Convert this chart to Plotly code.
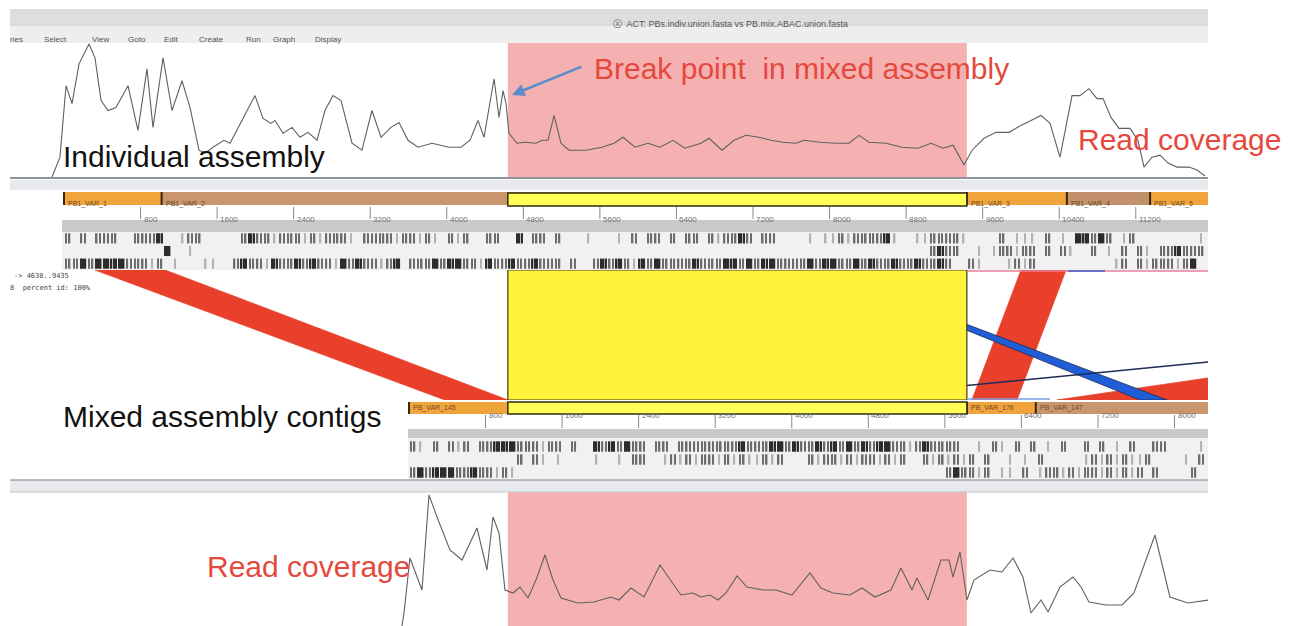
import plotly.graph_objects as go

W, H = 1292, 626            # screenshot size
PAGE_PAD = 8                # default body margin of the html page
FW, FH = W - PAGE_PAD, H - PAGE_PAD
BP_PER_PX = 10.45           # ACT zoom level (same for both sequences)
TOP_ORIGIN_PX = 64          # screen x of base 0 of the top sequence
OFFSET = 3605               # base 0 of the bottom sequence, in top-sequence bases
X_RANGE = [(10 - TOP_ORIGIN_PX) * BP_PER_PX, (1208 - TOP_ORIGIN_PX) * BP_PER_PX]

# ---------------- data ----------------
# read coverage, individual assembly (top sequence bases / depth)
top_cov_pos = [-125, -42, 21, 84, 157, 261, 324, 387, 460, 543, 669, 773, 867, 930, 1035,
               1129, 1233, 1317, 1411, 1473, 1557, 1672, 1735, 1860, 1996, 2080, 2163, 2205,
               2289, 2383, 2466, 2550, 2644, 2727, 2811, 2895, 3010, 3114, 3218, 3313, 3417,
               3501, 3595, 3699, 3846, 4023, 4149, 4243, 4326, 4389, 4494, 4546, 4588, 4619,
               4650, 4734, 4817, 4932, 4995, 5058, 5121, 5194, 5277, 5455, 5622, 5748, 5842,
               5967, 6103, 6228, 6364, 6489, 6657, 6740, 6876, 7002, 7127, 7263, 7388, 7514,
               7649, 7733, 7900, 8067, 8203, 8308, 8412, 8590, 8757, 8924, 9060, 9186, 9290,
               9405, 9489, 9614, 9739, 9875, 10000, 10105, 10210, 10304, 10408, 10534, 10617,
               10711, 10795, 10858, 10941, 11025, 11140, 11223, 11286, 11370, 11453, 11537,
               11631, 11756, 11840, 11924]
top_cov = [1, 21, 93, 75, 115, 135, 121, 78, 68, 71, 93, 48, 110, 51, 121, 68, 98, 71, 28, 25,
           31, 38, 35, 58, 83, 60, 55, 58, 45, 51, 41, 46, 38, 68, 83, 78, 35, 28, 68, 41, 51,
           56, 38, 31, 35, 31, 31, 38, 58, 41, 100, 61, 88, 75, 45, 35, 36, 35, 38, 38, 63, 35,
           28, 28, 31, 35, 41, 31, 35, 31, 38, 30, 35, 40, 28, 38, 43, 41, 38, 36, 35, 38, 36,
           35, 35, 43, 36, 35, 31, 30, 35, 30, 33, 13, 28, 40, 46, 46, 53, 58, 63, 55, 21, 83,
           83, 90, 80, 80, 61, 50, 50, 38, 11, 21, 23, 15, 11, 11, 8, 2]

# read coverage, mixed assembly (bottom sequence bases / depth)
bot_cov_pos = [-73, -52, 10, 84, 136, 209, 293, 428, 554, 711, 815, 878, 941, 1003, 1087, 1160,
               1244, 1327, 1421, 1505, 1588, 1766, 1933, 2111, 2194, 2320, 2456, 2623, 2707,
               2842, 2968, 3052, 3146, 3229, 3313, 3428, 3532, 3700, 3835, 4002, 4190, 4305,
               4431, 4608, 4734, 4870, 5037, 5141, 5256, 5308, 5424, 5559, 5643, 5685, 5758,
               5831, 5904, 5988, 6071, 6197, 6312, 6416, 6500, 6605, 6678, 6803, 6939, 7023,
               7106, 7284, 7451, 7576, 7796, 7952, 8140, 8360]
bot_cov = [0, 13, 68, 49, 36, 131, 109, 76, 66, 98, 56, 109, 93, 36, 33, 39, 28, 46, 71, 46, 28,
           23, 24, 29, 26, 38, 29, 61, 49, 31, 33, 29, 31, 26, 33, 50, 39, 36, 36, 31, 53, 38,
           33, 31, 38, 29, 36, 58, 36, 48, 26, 66, 66, 49, 74, 26, 46, 51, 56, 54, 68, 49, 13,
           26, 14, 39, 49, 39, 24, 21, 21, 33, 91, 29, 23, 26]

# selected match (highlighted)
sel_top = (4638, 9435)
sel_bot = (1033, 5830)

# contigs
top_contigs = ['PB1_VAR_1', 'PB1_VAR_2', 'PB1_VAR_3', 'PB1_VAR_4', 'PB1_VAR_5']
top_contig_start = [0, 1020, 9435, 10480, 11350]
top_contig_end = [1020, 9435, 10480, 11350, 12400]
bot_contigs = ['PB_VAR_145', 'PB_VAR_176', 'PB_VAR_147']
bot_contig_start = [0, 5830, 6550]
bot_contig_end = [5830, 6550, 9000]

top_ticks = [800, 1600, 2400, 3200, 4000, 4800, 5600, 6400, 7200, 8000, 8800, 9600, 10400, 11200]
bot_ticks = [800, 1600, 2400, 3200, 4000, 4800, 5600, 6400, 7200, 8000]

# blast matches: top start/end, bottom start/end, kind
match_top_start = [324, 10001, 19690, 7869, 21800]
match_top_end = [1055, 10471, 25450, 7932, 21830]
match_bot_start = [376, 5883, 6770, 7640, 4270]
match_bot_end = [1034, 6353, 9000, 7922, 4290]
match_kind = ['fwd', 'fwd', 'fwd', 'rev', 'weak']

# stop codon frames, one char per 80 bp bin (' ' none, 1 light, 2 mid, 3 dark)
BIN = 80
top_frames = [
    "2 2 222  2223  122     232212221212221 2222122121 212  22  3 22 2   1   1 2 22 2"
    " 22 212232 22    1 1121222231  1122221    2 111 2 1 33232 12        1",
    "             3  1   " + " " * 90 + "   2322  1 122122 2 21  2 1 2 21 223222",
    "2232333322212 1   11  2322132232322132322123 22232332213223223222 2  2"
    "3232132322223222332323322223233223232232232232  21   1212          12 21222123",
]
bot_frames = [
    "21 2 212 22333222122 2  3232322 22 2222222232223323223232323233221232222  1 21 2"
    " 2 1 2  2 2 1 2  22    1 ",
    "              2 21 1    1  1 22  1212122121211212   21221212"
    "21212  2121212 2  1 1 2     121212112    1 2 ",
    "23233322322121      " + " " * 50 + "232212 11 2 12212122121212 2    2  ",
]

# ---------------- helpers ----------------
def py(p):
    return 1 - (p - PAGE_PAD) / FH


def pxp(p):
    return (p - PAGE_PAD) / FW


def prect(x0, y0, x1, y1, color, layer='below'):
    return dict(type='rect', xref='paper', yref='paper', x0=pxp(x0), x1=pxp(x1),
                y0=py(y1), y1=py(y0), fillcolor=color, line=dict(width=0), layer=layer)


def pline(x0, y0, x1, y1, color, width=1):
    return dict(type='line', xref='paper', yref='paper', x0=pxp(x0), x1=pxp(x1),
                y0=py(y0), y1=py(y1), line=dict(color=color, width=width))


# each bin char -> thin stop-codon strokes (offsets in bp inside the bin)
STROKES = {'1': ([0], '#b2b2b2'), '2': ([-18, 18], '#6c6c6c'), '3': ([-24, 0, 24], '#2c2c2c')}
FONT = 'Liberation Sans, Arial, Helvetica, sans-serif'
RED_TXT = '#e5483d'

fig = go.Figure()
shapes = []
ann = []

# window chrome
shapes.append(prect(10, 9, 1208, 25, '#dedede'))
shapes.append(prect(10, 25, 1208, 43, '#eeeeee'))
shapes.append(pline(10, 25, 1208, 25, '#cfcfcf'))
ann.append(dict(x=pxp(730), y=py(17), xref='paper', yref='paper', showarrow=False,
                text='\u24e7  ACT: PBs.indiv.union.fasta vs PB.mix.ABAC.union.fasta',
                font=dict(family=FONT, size=9, color='#555555')))
menu = ['ries', 'Select', 'View', 'Goto', 'Edit', 'Create', 'Run', 'Graph', 'Display']
menu_x = [8, 42, 90, 126, 162, 197, 244, 271, 313]
for m, mx in zip(menu, menu_x):
    ann.append(dict(x=pxp(mx), y=py(33), xref='paper', yref='paper', xanchor='left',
                    showarrow=False, text=m, font=dict(family=FONT, size=8, color='#555555')))

# pink break region in both coverage plots
shapes.append(dict(type='rect', xref='x', yref='y domain', x0=sel_top[0], x1=sel_top[1],
                   y0=0, y1=1, fillcolor='#f5b1b1', line=dict(width=0), layer='below'))
shapes.append(dict(type='rect', xref='x', yref='y5 domain', x0=sel_bot[0] + OFFSET,
                   x1=sel_bot[1] + OFFSET, y0=0, y1=1, fillcolor='#f5b1b1',
                   line=dict(width=0), layer='below'))

# separators under the top graph / above the bottom graph
shapes.append(prect(10, 180, 1208, 190, '#e8e9ed'))
shapes.append(pline(10, 178, 1208, 178, '#8e949c', 2))
shapes.append(prect(10, 480, 1208, 492, '#e8e9ed'))
shapes.append(pline(10, 480, 1208, 480, '#a2a6ac', 1.5))
shapes.append(pline(10, 492, 1208, 492, '#c2c5ca', 1))


def feature_track(starts, ends, names, colors, shift, y0, y1):
    xmax = X_RANGE[1]
    for s, e, n, c in zip(starts, ends, names, colors):
        shapes.append(dict(type='rect', xref='x', yref='paper', x0=s + shift,
                           x1=min(e + shift, xmax), y0=py(y1), y1=py(y0), fillcolor=c,
                           line=dict(width=0), layer='below'))
        shapes.append(dict(type='line', xref='x', yref='paper', x0=s + shift, x1=s + shift,
                           y0=py(y1), y1=py(y0), line=dict(color='#3a2608', width=2)))
        ann.append(dict(x=s + shift, xref='x', y=py((y0 + y1) / 2), yref='paper',
                        xanchor='left', xshift=2, showarrow=False, text=n,
                        font=dict(family=FONT, size=7, color='#6b4a1c')))


def ruler(ticks, shift, y0, y1):
    for t in ticks:
        shapes.append(dict(type='line', xref='x', yref='paper', x0=t + shift, x1=t + shift,
                           y0=py(y1), y1=py(y0), line=dict(color='#8a8a8a', width=1)))
        ann.append(dict(x=t + shift, xref='x', y=py((y0 + y1) / 2), yref='paper',
                        xanchor='left', xshift=1, showarrow=False, text=str(t),
                        font=dict(family=FONT, size=8, color='#707070')))


# top sequence tracks
feature_track(top_contig_start, top_contig_end, top_contigs,
              ['#f2a43c', '#c9956c', '#f2a43c', '#c2906a', '#f2a43c'], 0, 192, 205)
shapes.append(dict(type='rect', xref='x', yref='paper', x0=sel_top[0], x1=sel_top[1],
                   y0=py(206), y1=py(193), fillcolor='#ffff55',
                   line=dict(color='#2e2e10', width=1.5)))
ruler(top_ticks, 0, 207, 219)
shapes.append(prect(62, 220, 1208, 232, '#c9c9c9'))
shapes.append(prect(62, 232, 1208, 270, '#f1f1f1'))

# bottom sequence tracks
feature_track(bot_contig_start, bot_contig_end, bot_contigs,
              ['#f2a43c', '#f2a43c', '#c9956c'], OFFSET, 402, 414)
shapes.append(dict(type='rect', xref='x', yref='paper', x0=sel_bot[0] + OFFSET,
                   x1=sel_bot[1] + OFFSET, y0=py(414), y1=py(402), fillcolor='#ffff55',
                   line=dict(color='#2e2e10', width=1.5)))
ruler(bot_ticks, OFFSET, 415, 428)
shapes.append(prect(408, 429, 1208, 438, '#c9c9c9'))
shapes.append(prect(408, 438, 1208, 479, '#f1f1f1'))

# coverage lines
fig.add_trace(go.Scatter(x=top_cov_pos, y=top_cov, xaxis='x', yaxis='y', mode='lines',
                         line=dict(color='#606060', width=1.1), hoverinfo='skip'))
fig.add_trace(go.Scatter(x=[p + OFFSET for p in bot_cov_pos], y=bot_cov, xaxis='x', yaxis='y5',
                         mode='lines', line=dict(color='#606060', width=1.1), hoverinfo='skip'))


# stop codon frames
def frame_bars(patterns, shift, axis):
    for r, pat in enumerate(patterns):
        xs, cols = [], []
        for i, ch in enumerate(pat):
            if ch == ' ':
                continue
            offs, col = STROKES[ch]
            for o in offs:
                xs.append(shift + i * BIN + BIN / 2 + o)
                cols.append(col)
        fig.add_trace(go.Bar(x=xs, y=[0.8] * len(xs), base=2.1 - r, width=16,
                             marker=dict(color=cols, line=dict(width=0)), xaxis='x',
                             yaxis=axis, hoverinfo='skip'))


frame_bars(top_frames, 0, 'y2')
frame_bars(bot_frames, OFFSET, 'y4')

# comparison panel
MATCH_FILL = {'fwd': '#e8402a', 'rev': '#1f5ed6'}
for ts, te, bs, be, k in zip(match_top_start, match_top_end, match_bot_start, match_bot_end,
                             match_kind):
    if k == 'weak':
        fig.add_trace(go.Scatter(x=[(bs + be) / 2 + OFFSET, (ts + te) / 2], y=[0, 1],
                                 xaxis='x', yaxis='y3', mode='lines',
                                 line=dict(color='#1c2a55', width=1.4), hoverinfo='skip'))
        continue
    fig.add_trace(go.Scatter(x=[ts, te, be + OFFSET, bs + OFFSET, ts], y=[1, 1, 0, 0, 1],
                             xaxis='x', yaxis='y3', mode='lines', fill='toself',
                             fillcolor=MATCH_FILL[k],
                             line=dict(color='#1c2a55' if k == 'rev' else MATCH_FILL[k],
                                       width=0.8),
                             hoverinfo='skip'))
# selected match drawn on top
fig.add_trace(go.Scatter(x=[sel_top[0], sel_top[1], sel_bot[1] + OFFSET, sel_bot[0] + OFFSET,
                            sel_top[0]], y=[1, 1, 0, 0, 1], xaxis='x', yaxis='y3',
                         mode='lines', fill='toself', fillcolor='#fff33c',
                         line=dict(color='#3a3a14', width=1.2), hoverinfo='skip'))
shapes.append(pline(967, 271, 1208, 271, '#e77d98', 1.5))
shapes.append(pline(1068, 271, 1105, 271, '#3d63d0', 1.5))
shapes.append(pline(967, 399, 1050, 399, '#7aa0e6', 1.5))

ann.append(dict(x=pxp(12), y=py(276), xref='paper', yref='paper', xanchor='left',
                showarrow=False, text='-> 4638..9435',
                font=dict(family='DejaVu Sans Mono', size=7, color='#444')))
ann.append(dict(x=pxp(8), y=py(288), xref='paper', yref='paper', xanchor='left',
                showarrow=False, text='8  percent id: 100%',
                font=dict(family='DejaVu Sans Mono', size=7, color='#444')))

# slide annotations
big = [('Individual assembly', 61, 157, '#111111'),
       ('Break point  in mixed assembly', 592, 69, RED_TXT),
       ('Read coverage', 1076, 139, RED_TXT),
       ('Mixed assembly contigs', 61, 416, '#111111'),
       ('Read coverage', 205, 566, RED_TXT)]
for t, tx, ty, c in big:
    ann.append(dict(x=pxp(tx), y=py(ty), xref='paper', yref='paper', xanchor='left',
                    yanchor='middle', showarrow=False, text=t,
                    font=dict(family=FONT, size=30, color=c)))
ann.append(dict(x=pxp(512), y=py(95), xref='paper', yref='paper', text='', showarrow=True,
                ax=71, ay=-29, arrowhead=2, arrowsize=1, arrowwidth=2.5,
                arrowcolor='#5b8ccc'))

hidden = dict(visible=False, fixedrange=True)
fig.update_layout(
    width=FW, height=FH, margin=dict(l=0, r=0, t=0, b=0),
    paper_bgcolor='white', plot_bgcolor='rgba(0,0,0,0)', showlegend=False,
    barmode='overlay',
    xaxis=dict(domain=[pxp(10), pxp(1208)], range=X_RANGE, **hidden),
    yaxis=dict(domain=[py(178), py(43)], range=[0, 136], **hidden),
    yaxis2=dict(domain=[py(270), py(232)], range=[0, 3], anchor='x', **hidden),
    yaxis3=dict(domain=[py(400), py(270)], range=[0, 1], anchor='x', **hidden),
    yaxis4=dict(domain=[py(479), py(440)], range=[0, 3], anchor='x', **hidden),
    yaxis5=dict(domain=[py(626), py(492)], range=[0, 134], anchor='x', **hidden),
    shapes=shapes, annotations=ann,
)

fig.write_html("out.html")
